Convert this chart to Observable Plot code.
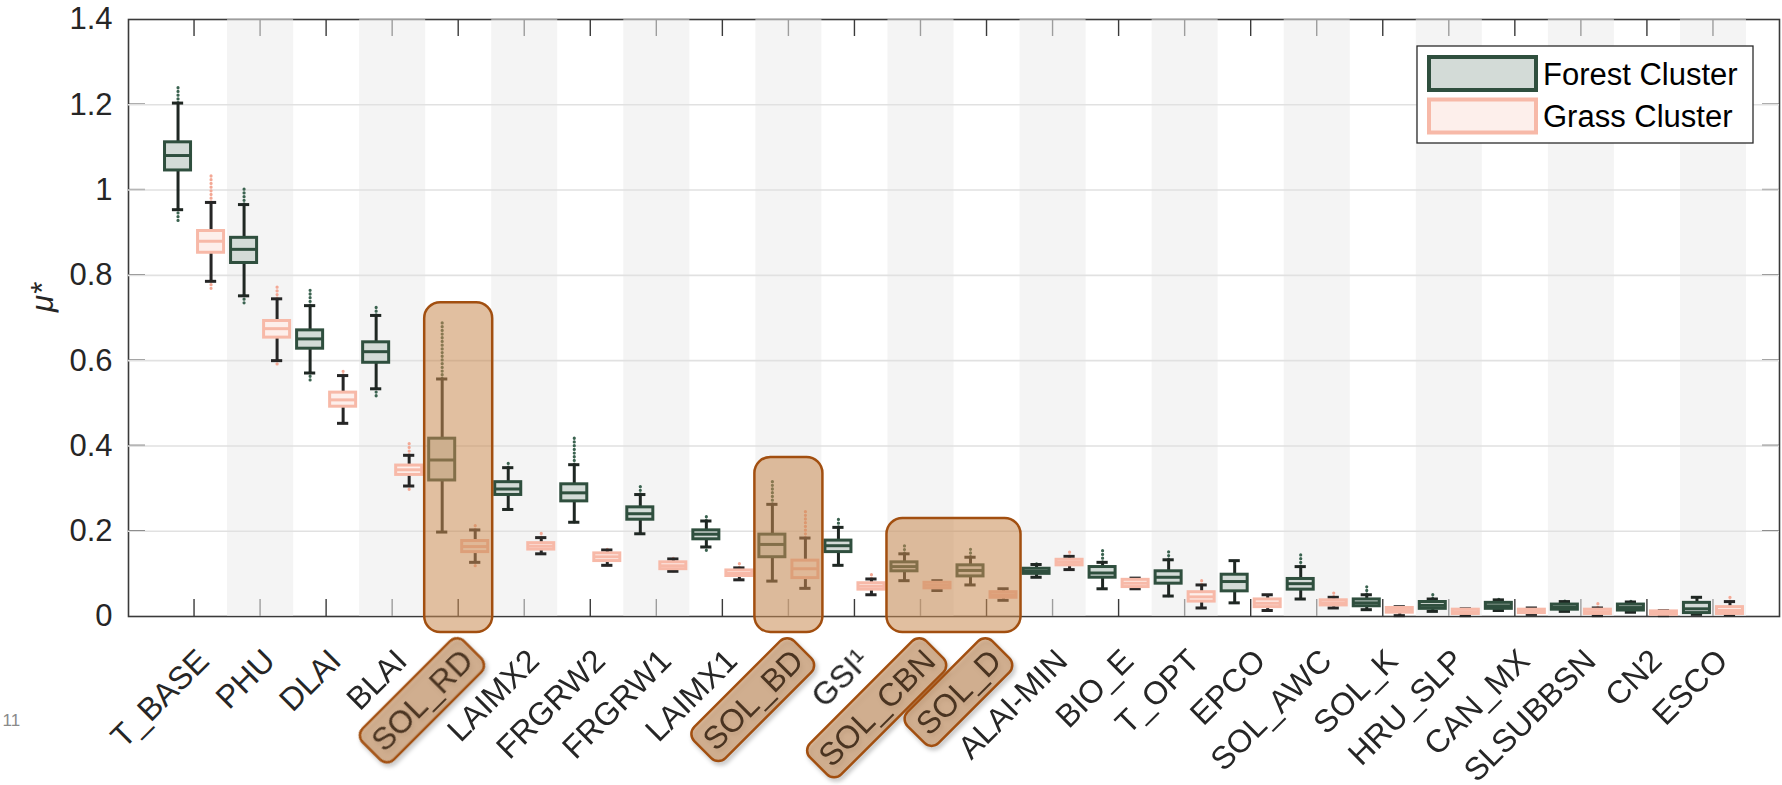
<!DOCTYPE html>
<html>
<head>
<meta charset="utf-8">
<script src="https://cdn.jsdelivr.net/npm/d3@7"></script>
<script src="https://cdn.jsdelivr.net/npm/@observablehq/plot@0.6"></script>
<style>
  body { margin: 0; background: #fff; }
  #chart { position: relative; width: 1782px; height: 785px; }
</style>
</head>
<body>
<div id="chart"></div>
<script>
// ---------------- data ----------------
const params = ["T_BASE","PHU","DLAI","BLAI","SOL_RD","LAIMX2","FRGRW2","FRGRW1","LAIMX1","SOL_BD","GSI\u00B9","SOL_CBN","SOL_D","ALAI-MIN","BIO_E","T_OPT","EPCO","SOL_AWC","SOL_K","HRU_SLP","CAN_MX","SLSUBBSN","CN2","ESCO"];

// Forest cluster: lower whisker, Q1, median, Q3, upper whisker, max outlier, min outlier
const forestLo  = [0.954,0.752,0.571,0.534,0.198,0.251,0.221,0.194,0.163,0.083,0.120,0.084,0.074,0.092,0.065,0.048,0.032,0.041,0.016,0.012,0.014,0.012,0.010,0.005];
const forestQ1  = [1.046,0.829,0.628,0.595,0.319,0.285,0.270,0.227,0.181,0.139,0.151,0.106,0.094,0.100,0.091,0.077,0.059,0.063,0.024,0.018,0.018,0.016,0.014,0.008];
const forestMed = [1.081,0.861,0.651,0.621,0.367,0.299,0.290,0.241,0.193,0.169,0.166,0.117,0.108,0.106,0.102,0.092,0.082,0.077,0.032,0.026,0.025,0.022,0.021,0.018];
const forestQ3  = [1.112,0.888,0.671,0.643,0.417,0.315,0.310,0.256,0.202,0.192,0.178,0.127,0.120,0.112,0.116,0.106,0.098,0.088,0.040,0.034,0.032,0.028,0.028,0.032];
const forestHi  = [1.204,0.966,0.729,0.706,0.557,0.349,0.356,0.286,0.224,0.263,0.209,0.147,0.139,0.122,0.127,0.133,0.131,0.117,0.051,0.041,0.039,0.035,0.034,0.045];
const forestOutHi = [1.245,1.003,0.771,0.732,0.690,0.360,0.419,0.309,0.238,0.323,0.233,0.166,0.159,0.129,0.157,0.155,null,0.145,0.075,0.053,0.047,0.041,0.041,null];
const forestOutLo = [0.927,0.732,0.550,0.514,null,0.246,0.215,0.188,0.152,null,null,null,null,null,null,0.043,null,null,null,null,null,null,null,null];

// Grass cluster
const grassLo  = [0.786,0.600,0.453,0.306,0.127,0.147,0.120,0.106,0.086,0.066,0.051,0.061,0.038,0.110,0.065,0.020,0.014,0.020,0.002,0.002,0.005,0.002,0.002,0.004];
const grassQ1  = [0.853,0.654,0.492,0.332,0.151,0.157,0.130,0.111,0.095,0.090,0.063,0.066,0.044,0.120,0.069,0.035,0.022,0.026,0.009,0.006,0.008,0.006,0.004,0.006];
const grassMed = [0.880,0.675,0.508,0.344,0.164,0.165,0.140,0.119,0.101,0.112,0.071,0.073,0.051,0.127,0.078,0.046,0.031,0.032,0.014,0.011,0.012,0.011,0.008,0.014];
const grassQ3  = [0.904,0.693,0.525,0.354,0.177,0.172,0.148,0.127,0.108,0.131,0.078,0.079,0.057,0.133,0.086,0.057,0.040,0.038,0.020,0.016,0.016,0.016,0.012,0.022];
const grassHi  = [0.971,0.745,0.565,0.378,0.203,0.185,0.156,0.135,0.114,0.184,0.088,0.084,0.065,0.141,0.090,0.074,0.051,0.045,0.023,0.018,0.020,0.020,0.014,0.035];
const grassOutHi = [1.039,0.772,0.581,0.406,0.219,0.198,0.164,0.143,0.125,0.250,0.104,null,null,0.152,null,0.090,null,0.055,null,null,null,0.036,null,0.047];
const grassOutLo = [0.768,0.585,0.446,0.297,0.117,0.141,0.114,0.098,0.080,null,null,null,null,0.106,null,null,null,null,null,null,null,null,null,null];

const yTicks = [0, 0.2, 0.4, 0.6, 0.8, 1, 1.2, 1.4];
const yTickLabels = ["0","0.2","0.4","0.6","0.8","1","1.2","1.4"];
const highlighted = ["SOL_RD","SOL_BD","SOL_CBN","SOL_D"];
const highlightGroups = [["SOL_RD"],["SOL_BD"],["SOL_CBN","SOL_D"]];
const highlightTops = [0.736, 0.373, 0.230];
const legendLabels = ["Forest Cluster","Grass Cluster"];
const yLabel = "\u03BC*";
const cornerNote = "11";

// ---------------- styles ----------------
const FONT = "'Liberation Sans', Arial, Helvetica, sans-serif";
const TEXT = "#262626";
const AXIS = "#3a3a3a";
const XFS = 32, YFS = 31;
const FOREST_STROKE = "#2f4f3e", FOREST_FILL = "#d3dbd7", FOREST_WHISK = "#1f2723", FOREST_OUT = "#3b6350";
const GRASS_STROKE = "#f7b9a8", GRASS_FILL = "#fdefeb", GRASS_WHISK = "#262626", GRASS_OUT = "#f3a895";
const HL_FILL = "#c98a52", HL_OPACITY = 0.55, HL_STROKE = "#a24f10";
const BOX_HALF = 0.197, CAP_HALF = 0.085, OFFSET = 0.25;
const LABEL_DX = 9, LABEL_DY = 39;

const forest = params.map((p, i) => ({param: p, pos: i + 1 - OFFSET, lo: forestLo[i], q1: forestQ1[i], med: forestMed[i], q3: forestQ3[i], hi: forestHi[i], outHi: forestOutHi[i], outLo: forestOutLo[i]}));
const grass = params.map((p, i) => ({param: p, pos: i + 1 + OFFSET, lo: grassLo[i], q1: grassQ1[i], med: grassMed[i], q3: grassQ3[i], hi: grassHi[i], outHi: grassOutHi[i], outLo: grassOutLo[i]}));
const bandPositions = params.map((p, i) => i + 1).filter(k => k % 2 === 0);
const idx = p => params.indexOf(p) + 1;

function boxMarks(data, stroke, fill, whisk, out) {
  return [
    Plot.ruleX(data.filter(d => d.outHi != null), {x: "pos", y1: "hi", y2: "outHi", stroke: out, strokeWidth: 3.2, strokeDasharray: "0.1,3.6", strokeLinecap: "round"}),
    Plot.ruleX(data.filter(d => d.outLo != null), {x: "pos", y1: "lo", y2: "outLo", stroke: out, strokeWidth: 3.2, strokeDasharray: "0.1,3.6", strokeLinecap: "round"}),
    Plot.ruleX(data, {x: "pos", y1: "q3", y2: "hi", stroke: whisk, strokeWidth: 3}),
    Plot.ruleX(data, {x: "pos", y1: "q1", y2: "lo", stroke: whisk, strokeWidth: 3}),
    Plot.ruleY(data, {y: "hi", x1: d => d.pos - CAP_HALF, x2: d => d.pos + CAP_HALF, stroke: whisk, strokeWidth: 3}),
    Plot.ruleY(data, {y: "lo", x1: d => d.pos - CAP_HALF, x2: d => d.pos + CAP_HALF, stroke: whisk, strokeWidth: 3}),
    Plot.rect(data, {x1: d => d.pos - BOX_HALF, x2: d => d.pos + BOX_HALF, y1: "q1", y2: "q3", fill, stroke, strokeWidth: 3}),
    Plot.ruleY(data, {y: "med", x1: d => d.pos - BOX_HALF, x2: d => d.pos + BOX_HALF, stroke, strokeWidth: 3})
  ];
}

function tickMark(index, scales, values, dims) {
  const {x, y} = scales;
  const L = 17;
  const left = dims.marginLeft, right = dims.width - dims.marginRight;
  const bottom = dims.height - dims.marginBottom, top = dims.marginTop;
  const g = d3.create("svg:g").attr("stroke", AXIS).attr("stroke-width", 1.4);
  for (const t of yTicks.slice(1, -1)) {
    const py = y(t);
    g.append("line").attr("x1", left).attr("x2", left + L).attr("y1", py).attr("y2", py);
    g.append("line").attr("x1", right).attr("x2", right - L).attr("y1", py).attr("y2", py);
  }
  params.forEach((p, i) => {
    const px = x(i + 1);
    g.append("line").attr("x1", px).attr("x2", px).attr("y1", bottom).attr("y2", bottom - L);
    g.append("line").attr("x1", px).attr("x2", px).attr("y1", top).attr("y2", top + L);
  });
  return g.node();
}

function tagMark(index, scales, values, dims) {
  const {x, y} = scales;
  const ctx = document.createElement("canvas").getContext("2d");
  ctx.font = `${XFS}px ${FONT}`;
  const g = d3.create("svg:g").attr("aria-label", "tags")
    .style("filter", "drop-shadow(2px 3px 2px rgba(0,0,0,0.28))");
  for (const p of highlighted) {
    const mx = x(idx(p)) + LABEL_DX, my = y(0) + LABEL_DY;
    const L = ctx.measureText(p).width, pad = 7.5, H = 44;
    const t = g.append("g").attr("transform", `translate(${mx},${my}) rotate(-45)`);
    t.append("rect").attr("x", -L - pad).attr("y", -H / 2).attr("width", L + 2 * pad).attr("height", H)
      .attr("rx", 10).attr("fill", HL_FILL).attr("fill-opacity", HL_OPACITY)
      .attr("stroke", HL_STROKE).attr("stroke-width", 2.5);
    t.append("text").attr("text-anchor", "end").attr("dy", "0.35em")
      .attr("fill", "#4a3421").attr("font-size", XFS).attr("font-family", FONT).text(p);
  }
  return g.node();
}

function legendMark(index, scales, values, dims) {
  const right = dims.width - dims.marginRight;
  const x0 = right - 362, y0 = dims.marginTop + 27;
  const g = d3.create("svg:g").attr("aria-label", "legend");
  g.append("rect").attr("x", x0).attr("y", y0).attr("width", 336).attr("height", 97)
    .attr("fill", "#fff").attr("stroke", "#2b2b2b").attr("stroke-width", 1.3);
  const sw = [[FOREST_STROKE, FOREST_FILL], [GRASS_STROKE, GRASS_FILL]];
  legendLabels.forEach((lab, i) => {
    const sy = y0 + 11 + i * 42.5;
    g.append("rect").attr("x", x0 + 12).attr("y", sy).attr("width", 107).attr("height", 33)
      .attr("fill", sw[i][1]).attr("stroke", sw[i][0]).attr("stroke-width", 4);
    g.append("text").attr("x", x0 + 126).attr("y", sy + 16.5).attr("dy", "0.36em")
      .attr("text-anchor", "start")
      .attr("fill", "#000").attr("font-size", YFS).attr("font-family", FONT).text(lab);
  });
  return g.node();
}

const chart = Plot.plot({
  width: 1782,
  height: 785,
  marginLeft: 128,
  marginRight: 3,
  marginTop: 19,
  marginBottom: 169,
  style: {fontFamily: FONT, fontSize: `${YFS}px`, color: TEXT, background: "#fff", overflow: "visible"},
  x: {domain: [0, params.length + 1], axis: null},
  y: {domain: [0, 1.4], ticks: yTicks, tickFormat: d => yTickLabels[yTicks.indexOf(d)], tickSize: 0, tickPadding: 16, label: null},
  marks: [
    Plot.frame({stroke: AXIS, strokeWidth: 1.6}),
    tickMark,
    Plot.rect(bandPositions, {x1: d => d - 0.5, x2: d => d + 0.5, y1: 0, y2: 1.4, fill: "#ececec", fillOpacity: 0.56}),
    Plot.ruleY(yTicks.slice(1, -1), {stroke: "#e1e1e1", strokeWidth: 1.6}),
    ...boxMarks(forest, FOREST_STROKE, FOREST_FILL, FOREST_WHISK, FOREST_OUT),
    ...boxMarks(grass, GRASS_STROKE, GRASS_FILL, GRASS_WHISK, GRASS_OUT),
    Plot.rect(highlightGroups, {
      x1: g => idx(g[0]) - 0.515, x2: g => idx(g[g.length - 1]) + 0.515,
      y1: -0.0375, y2: (g, i) => highlightTops[i],
      rx: 16, fill: HL_FILL, fillOpacity: HL_OPACITY, stroke: HL_STROKE, strokeWidth: 2.5, ariaLabel: "highlight"
    }),
    tagMark,
    Plot.text(params.filter(p => !highlighted.includes(p)), {
      x: p => idx(p), frameAnchor: "bottom", dx: LABEL_DX, dy: LABEL_DY,
      rotate: -45, textAnchor: "end", lineAnchor: "middle", fill: TEXT, fontSize: XFS
    }),
    legendMark,
    Plot.text([yLabel], {frameAnchor: "left", dx: -85, dy: -6, rotate: -90, fontStyle: "italic", fontSize: YFS, fill: TEXT}),
    Plot.text([cornerNote], {frameAnchor: "bottom-left", dx: -126, dy: 109, textAnchor: "start", fontSize: 17, fill: "#8a8a8a"})
  ]
});

const hl = chart.querySelector('g[aria-label="highlight"]');
if (hl) hl.style.filter = "drop-shadow(2px 3px 2px rgba(0,0,0,0.25))";
document.getElementById("chart").appendChild(chart);
</script>
</body>
</html>
